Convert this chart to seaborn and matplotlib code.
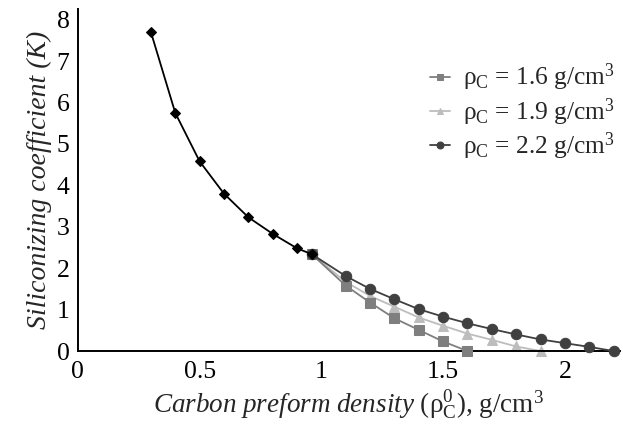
import matplotlib
matplotlib.use("Agg")
import matplotlib.pyplot as plt
import seaborn as sns
import pandas as pd

# Data
x_base = [0.30, 0.40, 0.50, 0.60, 0.70, 0.80, 0.90, 0.96]
k_base = [7.70, 5.75, 4.58, 3.80, 3.23, 2.83, 2.48, 2.34]

x_16 = [0.96, 1.10, 1.20, 1.30, 1.40, 1.50, 1.60]
k_16 = [2.34, 1.58, 1.17, 0.79, 0.51, 0.23, 0.00]

x_19 = [0.96, 1.10, 1.20, 1.30, 1.40, 1.50, 1.60, 1.70, 1.80, 1.90]
k_19 = [2.34, 1.67, 1.33, 1.07, 0.81, 0.61, 0.42, 0.27, 0.11, 0.00]

x_22 = [0.96, 1.10, 1.20, 1.30, 1.40, 1.50, 1.60, 1.70, 1.80, 1.90, 2.00, 2.10, 2.20]
k_22 = [2.34, 1.81, 1.50, 1.25, 1.01, 0.83, 0.67, 0.53, 0.40, 0.28, 0.19, 0.10, 0.00]

labels = ["ρ$_\\mathrm{C}$ = 1.6 g/cm$^3$",
          "ρ$_\\mathrm{C}$ = 1.9 g/cm$^3$",
          "ρ$_\\mathrm{C}$ = 2.2 g/cm$^3$"]
x_ticks = [0, 0.5, 1, 1.5, 2]
x_ticklabels = ["0", "0.5", "1", "1.5", "2"]
y_ticks = [0, 1, 2, 3, 4, 5, 6, 7, 8]

sns.set_theme(style="white")
plt.rcParams["font.family"] = ["Liberation Serif", "DejaVu Serif"]
plt.rcParams["mathtext.fontset"] = "custom"
plt.rcParams["mathtext.rm"] = "Liberation Serif"
plt.rcParams["mathtext.it"] = "Liberation Serif:italic"
plt.rcParams["mathtext.bf"] = "Liberation Serif:bold"

fig = plt.figure(figsize=(6.23, 4.26), dpi=100)
ax = fig.add_axes([0.125, 0.176, 0.870, 0.802])

df_base = pd.DataFrame({"x": x_base, "k": k_base})
sns.lineplot(data=df_base, x="x", y="k", ax=ax, color="black", marker="D",
             markersize=5.5, markeredgecolor="black", linewidth=1.3, zorder=5,
             legend=False, sort=False)

series = [
    (x_16, k_16, "#7f7f7f", "s", 6.5, labels[0], 3),
    (x_19, k_19, "#bdbdbd", "^", 7, labels[1], 2),
    (x_22, k_22, "#404040", "o", 7.5, labels[2], 4),
]
for xs, ks, col, mk, ms, lab, z in series:
    d = pd.DataFrame({"x": xs, "k": ks})
    sns.lineplot(data=d, x="x", y="k", ax=ax, color=col, marker=mk,
                 markersize=ms, markeredgecolor=col, linewidth=1.3,
                 label=lab, zorder=z, sort=False, clip_on=False)

ax.set_xlim(0, 2.226)
ax.set_ylim(0, 8.25)
ax.set_xticks(x_ticks)
ax.set_xticklabels(x_ticklabels)
ax.set_yticks(y_ticks)
ax.tick_params(direction="in", length=8, width=1.2, labelsize=18.5, colors="black")
ax.tick_params(axis="x", pad=7)
ax.tick_params(axis="y", pad=6)
for s in ["top", "right"]:
    ax.spines[s].set_visible(False)
for s in ["left", "bottom"]:
    ax.spines[s].set_linewidth(1.4)
    ax.spines[s].set_color("black")

ax.set_xlabel("$\\mathit{Carbon\\ preform\\ density}$ (ρ$^{0}_{\\mathrm{C}}$), g/cm$^3$",
              fontsize=19.5, labelpad=4)
ax.set_ylabel("Siliconizing coefficient (K)", fontsize=20, fontstyle="italic", labelpad=3)

leg = ax.legend(loc="upper left", bbox_to_anchor=(430 / 623, 1 - 62 / 426),
                bbox_transform=fig.transFigure, frameon=False,
                fontsize=18.3, handlelength=0.8, handletextpad=0.5,
                labelspacing=0.1, borderaxespad=0, borderpad=0)
for h in leg.legend_handles:
    h.set_markersize(5)

fig.savefig("out.png", dpi=100)
